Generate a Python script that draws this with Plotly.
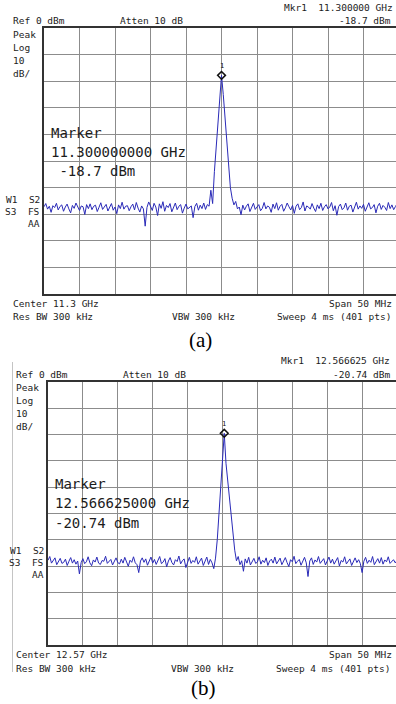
import plotly.graph_objects as go

W, H = 396, 704

# ---------------- data (dBm), 201 sweep samples over 50 MHz span ----------------
span_mhz = 50
trace_a = [
    -67.2,-66.0,-68.1,-67.0,-69.3,-66.8,-67.5,-65.9,-68.4,-67.1,
    -66.5,-68.9,-67.3,-66.2,-68.0,-69.5,-66.7,-67.8,-65.8,-67.4,
    -68.6,-66.9,-67.2,-70.1,-66.4,-67.9,-66.1,-68.3,-67.0,-66.6,
    -69.0,-67.4,-65.7,-68.2,-67.1,-66.3,-68.8,-67.6,-66.0,-68.5,
    -67.3,-69.8,-66.5,-67.9,-65.5,-68.1,-67.0,-66.8,-68.7,-67.2,
    -66.2,-68.4,-65.6,-67.7,-69.2,-66.9,-68.0,-74.5,-67.5,-65.4,
    -66.8,-68.6,-65.9,-67.3,-70.5,-66.1,-67.8,-65.3,-68.9,-66.7,
    -67.5,-66.0,-69.1,-67.2,-65.8,-68.3,-67.0,-66.4,-69.6,-67.7,
    -66.2,-68.0,-67.4,-66.9,-71.3,-67.1,-65.9,-68.5,-66.6,-67.9,
    -65.8,-68.2,-66.4,-67.0,
    -61.0,-66.0,-54.0,-45.0,-36.0,-26.5,-17.8,-25.0,-34.0,-45.0,-53.0,-60.0,-64.0,
    -66.5,-65.2,-68.0,
    -67.3,-70.2,-66.6,-68.4,-67.0,-66.1,-69.0,-67.5,-65.9,-68.2,
    -67.1,-66.4,-68.7,-67.8,-65.6,-68.0,-66.9,-67.4,-69.3,-66.2,
    -67.9,-65.7,-68.5,-67.0,-66.3,-68.9,-67.6,-65.8,-67.2,-68.4,
    -66.7,-69.7,-67.0,-66.1,-68.3,-67.5,-65.4,-68.8,-66.9,-67.3,
    -68.1,-66.0,-67.7,-69.0,-66.5,-67.9,-65.9,-68.6,-67.2,-66.4,
    -68.0,-67.3,-65.6,-68.7,-66.8,-70.4,-67.1,-66.2,-68.3,-67.6,
    -65.8,-68.5,-67.0,-66.6,-69.2,-67.4,-65.5,-68.1,-66.9,-67.8,
    -66.3,-68.9,-67.2,-65.7,-68.0,-67.5,-66.4,-69.5,-67.0,-65.9,
    -68.2,-66.7,-67.4,-68.6,-65.6,-67.9,-66.5,-68.3,-67.1,-66.0,
    -67.6,
]
trace_b = [
    -67.8,-66.4,-68.9,-68.0,-66.9,-69.5,-68.3,-67.1,-69.0,-68.6,
    -67.4,-69.8,-68.2,-66.8,-68.9,-67.6,-69.3,-68.1,-73.0,-68.7,
    -67.2,-69.1,-68.4,-66.5,-68.8,-69.9,-67.7,-68.5,-66.6,-68.9,
    -69.4,-67.9,-68.2,-66.3,-69.0,-68.4,-67.5,-69.6,-68.0,-66.9,
    -68.7,-69.2,-67.4,-68.9,-66.7,-68.3,-70.1,-67.8,-68.6,-66.5,
    -68.8,-69.5,-72.5,-68.1,-66.9,-68.6,-67.3,-69.7,-68.2,-66.6,
    -68.9,-67.5,-69.4,-68.0,-66.4,-69.1,-68.5,-67.2,-70.3,-68.1,
    -66.8,-68.7,-69.6,-67.6,-68.3,-66.2,-69.2,-68.0,-67.3,-70.6,
    -68.4,-66.7,-69.0,-67.9,-68.6,-66.5,-69.3,-68.2,-67.0,-69.8,
    -68.1,-66.6,-69.4,-67.5,-68.8,
    -71.0,-67.0,-60.0,-50.0,-40.0,-28.0,-19.6,-31.0,-38.0,-45.0,-52.0,-59.0,-64.0,-68.0,
    -66.4,-69.5,-68.0,-72.0,-67.3,-68.9,-66.7,-69.6,-68.2,-67.1,-69.0,
    -68.5,-66.5,-69.3,-67.8,-68.7,-66.9,-69.8,-68.1,-67.4,-68.9,
    -66.6,-69.2,-68.3,-67.0,-69.5,-68.0,-66.8,-68.7,-70.2,-67.6,
    -68.4,-66.3,-69.1,-68.2,-67.5,-69.7,-68.0,-66.7,-68.8,-74.0,
    -68.1,-66.9,-69.4,-67.7,-68.5,-66.4,-69.0,-68.3,-67.2,-69.6,
    -68.0,-66.6,-68.9,-67.4,-69.3,-68.1,-66.8,-70.0,-67.9,-68.5,
    -66.5,-69.2,-68.0,-67.3,-69.8,-68.4,-66.9,-68.7,-67.6,-69.1,
    -72.5,-68.2,-66.7,-69.0,-67.8,-68.6,-66.4,-69.5,-68.1,-67.2,
    -68.9,-66.8,-69.3,-67.7,-68.4,-66.5,-69.0,-68.3,-67.6,-68.8,
    -67.9,
]

panel_a_text = {
    "ref": "Ref 0 dBm", "atten": "Atten 10 dB",
    "mkr": "Mkr1  11.300000 GHz", "mkr_lvl": "-18.7 dBm",
    "marker": ["Marker", "11.300000000 GHz", " -18.7 dBm"],
    "center": "Center 11.3 GHz", "span": "Span 50 MHz",
    "rbw": "Res BW 300 kHz", "vbw": "VBW 300 kHz", "sweep": "Sweep 4 ms (401 pts)",
    "label": "(a)",
}
panel_b_text = {
    "ref": "Ref 0 dBm", "atten": "Atten 10 dB",
    "mkr": "Mkr1  12.566625 GHz", "mkr_lvl": "-20.74 dBm",
    "marker": ["Marker", "12.566625000 GHz", "-20.74 dBm"],
    "center": "Center 12.57 GHz", "span": "Span 50 MHz",
    "rbw": "Res BW 300 kHz", "vbw": "VBW 300 kHz", "sweep": "Sweep 4 ms (401 pts)",
    "label": "(b)",
}
side_labels = ["Peak", "Log", "10", "dB/"]

# ---------------- layout geometry (pixels) ----------------
geom_a = dict(L=44, R=399, T=28, B=294)
geom_b = dict(L=48, R=397, T=381.7, B=645)

TRACE_COLOR = "#2a2ab8"
TEXT_COLOR = "#1c1c1c"
MONO = "DejaVu Sans Mono"

fig = go.Figure()
annotations = []
shapes = []


def px(x):
    return x / W


def py(y):
    return 1 - y / H


def add_panel(idx, trace, g, t, dy):
    xa = "x" if idx == 1 else "x2"
    ya = "y" if idx == 1 else "y2"
    n = len(trace)
    step = span_mhz / (n - 1)
    xs = [i * step for i in range(n)]
    fig.add_trace(go.Scatter(x=xs, y=trace, mode="lines",
                             line=dict(color=TRACE_COLOR, width=1),
                             xaxis=xa, yaxis=ya, showlegend=False,
                             hoverinfo="skip"))
    k = max(range(n), key=lambda i: trace[i])
    fig.add_trace(go.Scatter(x=[xs[k]], y=[trace[k]], mode="markers",
                             marker=dict(symbol="diamond-open", size=6,
                                         color="#111111", line=dict(width=1.5, color="#111111")),
                             xaxis=xa, yaxis=ya, showlegend=False, hoverinfo="skip"))
    annotations.append(dict(x=xs[k], y=trace[k], xref=xa, yref=ya, text="1",
                            showarrow=False, yshift=9, xshift=0,
                            font=dict(family=MONO, size=7, color="#111111")))

    px_per_mhz = (g["R"] - g["L"]) / span_mhz
    xmax = (W - g["L"]) / px_per_mhz
    layout_key_x = "xaxis" if idx == 1 else "xaxis2"
    layout_key_y = "yaxis" if idx == 1 else "yaxis2"
    fig.layout[layout_key_x] = dict(
        domain=[px(g["L"]), 1], range=[0, xmax], dtick=5, tick0=0,
        showgrid=True, gridcolor="#8c8c8c", gridwidth=1,
        showticklabels=False, ticks="", zeroline=False,
        showline=True, mirror=True, linecolor="#333333", linewidth=2,
        anchor=ya, fixedrange=True)
    fig.layout[layout_key_y] = dict(
        domain=[py(g["B"]), py(g["T"])], range=[-100, 0], dtick=10, tick0=0,
        showgrid=True, gridcolor="#8c8c8c", gridwidth=1,
        showticklabels=False, ticks="", zeroline=False,
        showline=True, mirror=False, linecolor="#333333", linewidth=2,
        anchor=xa, fixedrange=True)

    def txt(x, y, s, anchor="left", size=9.5, family=MONO, color=TEXT_COLOR):
        annotations.append(dict(x=px(x), y=py(y), xref="paper", yref="paper",
                                text=s.replace("  ", "&nbsp;&nbsp;"), showarrow=False, xanchor=anchor,
                                yanchor="middle", font=dict(family=family, size=size, color=color)))

    txt(t["x_ref"], dy + 21, t["ref"])
    txt(t["x_att"], dy + 21, t["atten"])
    txt(t["x_mkr"], dy + t["mkr_y"], t["mkr"], anchor="right")
    txt(t["x_lvl"], dy + 21, t["mkr_lvl"], anchor="right")
    for j, s in enumerate(side_labels):
        txt(t["x_ref"], dy + 34 + 13.2 * j, s)
    for j, s in enumerate(t["marker"]):
        txt(g["L"] + 5, t["marker_y"] + 19.3 * j, s.replace(" -", "&nbsp;-"), size=14)
    txt(g["L"] - 2, t["w1_y"], "W1  S2", anchor="right")
    txt(g["L"] - 2, t["w1_y"] + 12.6, "S3  FS", anchor="right")
    txt(g["L"] - 2, t["w1_y"] + 24.5, "AA", anchor="right")
    txt(t["x_ref"], g["B"] + 9.5, t["center"])
    txt(394, g["B"] + 9.5, t["span"], anchor="right")
    txt(t["x_ref"], g["B"] + 23, t["rbw"])
    txt(t["x_vbw"], g["B"] + 23, t["vbw"])
    txt(t["x_sw"], g["B"] + 23, t["sweep"], anchor="right")
    txt(t["x_lab"], t["lab_y"], t["label"], anchor="center", size=21,
        family="Liberation Serif", color="#000000")


panel_a_text.update(x_ref=11, x_att=118, x_mkr=395, mkr_y=8,
                    x_lvl=393, marker_y=132.5, w1_y=199.3, x_vbw=170, x_sw=393,
                    x_lab=200, lab_y=340)
panel_b_text.update(x_ref=14, x_att=121, x_mkr=392, mkr_y=7,
                    x_lvl=392, marker_y=484, w1_y=550, x_vbw=169, x_sw=392,
                    x_lab=203, lab_y=688)

add_panel(1, trace_a, geom_a, panel_a_text, 0)
add_panel(2, trace_b, geom_b, panel_b_text, 353)

# thin frame edge of the second screenshot
shapes.append(dict(type="line", xref="paper", yref="paper",
                   x0=px(12.5), x1=px(12.5), y0=py(362), y1=py(672),
                   line=dict(color="#c4c4c4", width=1)))

fig.update_layout(
    width=W, height=H, margin=dict(l=0, r=0, t=0, b=0),
    paper_bgcolor="white", plot_bgcolor="white",
    annotations=annotations, shapes=shapes, showlegend=False,
)

fig.write_html("out.html")
